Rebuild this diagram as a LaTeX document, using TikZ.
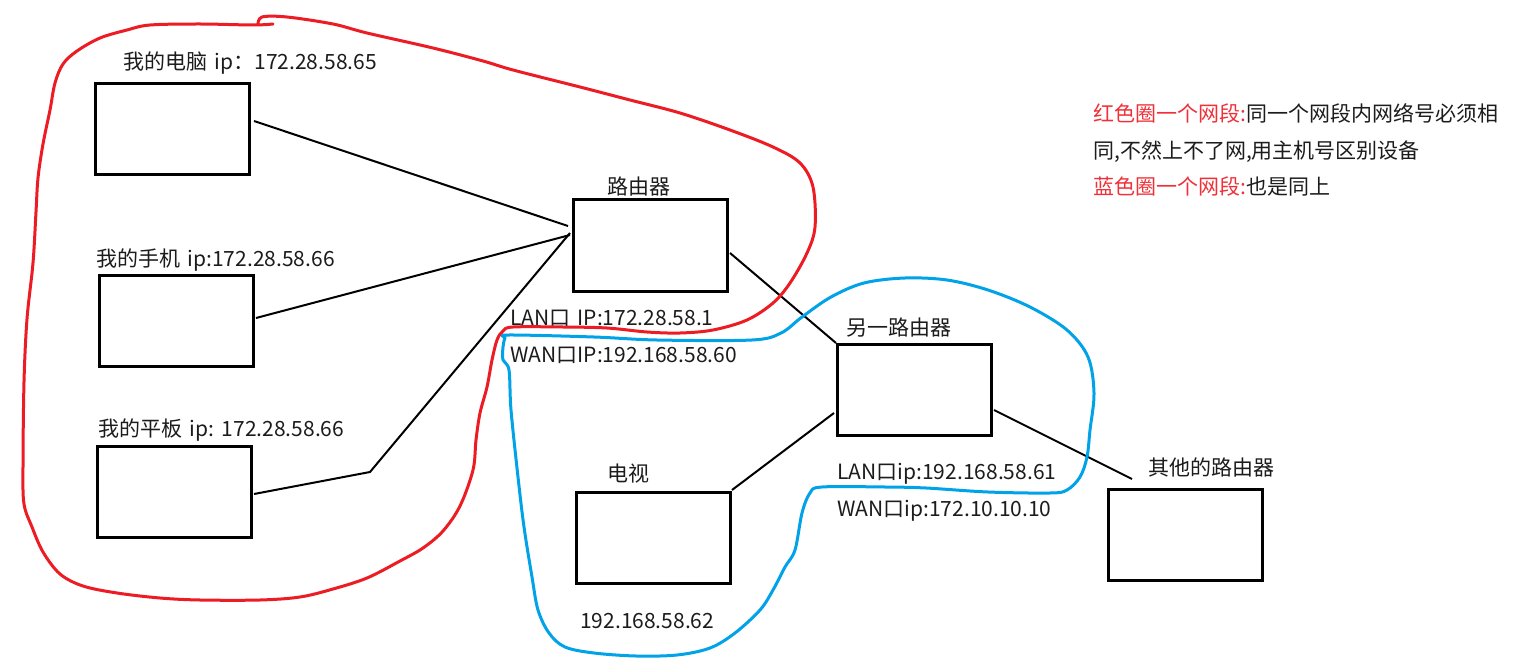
\documentclass[tikz,border=0pt]{standalone}
\usepackage{fontspec}
\setmainfont{Noto Sans CJK SC}
\definecolor{penred}{RGB}{237,28,36}
\definecolor{penblue}{RGB}{0,162,232}
\definecolor{legred}{RGB}{240,48,56}
\definecolor{ink}{RGB}{28,28,28}
\newcommand{\gapsp}{\hspace{7.5pt}}
\begin{document}
\begin{tikzpicture}[x=1pt,y=-1pt,
  devbox/.style={draw=black, line width=3pt, minimum width=154pt, minimum height=91pt, inner sep=0pt},
  lbl/.style={anchor=west, inner sep=0pt, text=ink, font=\fontsize{21pt}{25pt}\selectfont, text height=18pt, text depth=2pt},
  wire/.style={draw=black, line width=2pt},
  redloop/.style={draw=penred, line width=3pt, line join=round, line cap=round},
  blueloop/.style={draw=penblue, line width=3pt, line join=round, line cap=round}]
\useasboundingbox (0,0) rectangle (1517,663);
\fill[white] (0,0) rectangle (1517,663);

% boxes
\node[devbox] (pc) at (172.5,129.5) {};
\node[devbox] (phone) at (176.3,321) {};
\node[devbox] (pad) at (174.5,491.5) {};
\node[devbox] (router) at (650,245.5) {};
\node[devbox] (router2) at (914,390) {};
\node[devbox] (tv) at (653.5,537.5) {};
\node[devbox] (other) at (1185,535) {};

% labels
\node[lbl] (lpc) at (123,62) {我的电脑\gapsp ip：172.28.58.65};
\node[lbl] (lphone) at (96,258) {我的手机\gapsp ip:172.28.58.66};
\node[lbl] (lpad) at (98,428) {我的平板\gapsp ip:\gapsp 172.28.58.66};
\node[lbl] (lrouter) at (607,186) {路由器};
\node[lbl] (llan1) at (510,317) {LAN口\hspace{7pt}IP:172.28.58.1};
\node[lbl] (lwan1) at (510,354) {WAN口IP:192.168.58.60};
\node[lbl] (lrouter2) at (846,327) {另一路由器};
\node[lbl] (ltv) at (607,473) {电视};
\node[lbl] (llan2) at (837,471) {LAN口ip:192.168.58.61};
\node[lbl] (lwan2) at (837,508) {WAN口ip:172.10.10.10};
\node[lbl] (ltvip) at (580,620) {192.168.58.62};
\node[lbl] (lother) at (1148,467) {其他的路由器};

% legend
\node[lbl] (leg1) at (1093,114) {{\color{legred}红色圈一个网段:}同一个网段内网络号必须相};
\node[lbl] (leg2) at (1093,151) {同,不然上不了网,用主机号区别设备};
\node[lbl] (leg3) at (1093,186) {{\color{legred}蓝色圈一个网段:}也是同上};

% connector end points
\coordinate (pcR) at (254,121);
\coordinate (rIn1) at (568,226);
\coordinate (phR) at (256,318);
\coordinate (rIn2) at (570,235);
\coordinate (padR) at (254,494);
\coordinate (bend) at (370,472);
\coordinate (rIn3) at (570,233);
\coordinate (rOut) at (730,253);
\coordinate (r2In) at (836,343);
\coordinate (tvR) at (732,490);
\coordinate (r2L) at (834,413);
\coordinate (r2R) at (994,410);
\coordinate (oIn) at (1132,479);

\draw[wire] (pcR) -- (rIn1);
\draw[wire] (phR) -- (rIn2);
\draw[wire] (padR) -- (bend) -- (rIn3);
\draw[wire] (rOut) -- (r2In);
\draw[wire] (tvR) -- (r2L);
\draw[wire] (r2R) -- (oIn);

% red loop
\draw[redloop] plot[smooth, tension=0.55] coordinates {
(258,25) (262,17) (287,17) (333,24) (367,33) (433,48) (483,61) (513,70) (580,87) (630,100) (680,113) (730,130) (773,147) (800,163) (813,187) (815,227) (807,253) (790,283) (773,303) (747,320) (713,330) (680,333) (647,332) (607,328) (563,327) (513,327) (503,331) (497,340) (492,360) (487,387) (480,413) (476,440) (473,470) (460,506) (443,531) (423,548) (400,561) (367,578) (333,589) (300,597) (260,600) (200,600) (160,598) (117,593) (83,586) (60,574) (43,552) (32,527) (24,504) (23,467) (24,382) (27,319) (33,263) (36,212) (38,178) (43,144) (50,110) (55,83) (63,64) (77,51) (100,38) (127,30) (150,25) (200,24) (253,25) (273,24)};

% blue loop
\draw[blueloop] plot[smooth cycle, tension=0.55] coordinates {
(509,335) (594,337) (657,340) (752,340) (781,333) (802,317) (831,297) (864,283) (905,278) (947,280) (988,290) (1030,307) (1067,330) (1088,357) (1094,393) (1090,430) (1087,457) (1080,477) (1067,490) (1050,493) (988,492) (926,488) (885,487) (822,487) (810,493) (802,513) (795,550) (785,567) (773,590) (760,610) (735,633) (710,648) (677,655) (636,656) (594,653) (565,647) (549,633) (538,610) (532,577) (524,527) (518,477) (511,410) (509,370) (503,360) (503,347) (505,338)};
\end{tikzpicture}
\end{document}
